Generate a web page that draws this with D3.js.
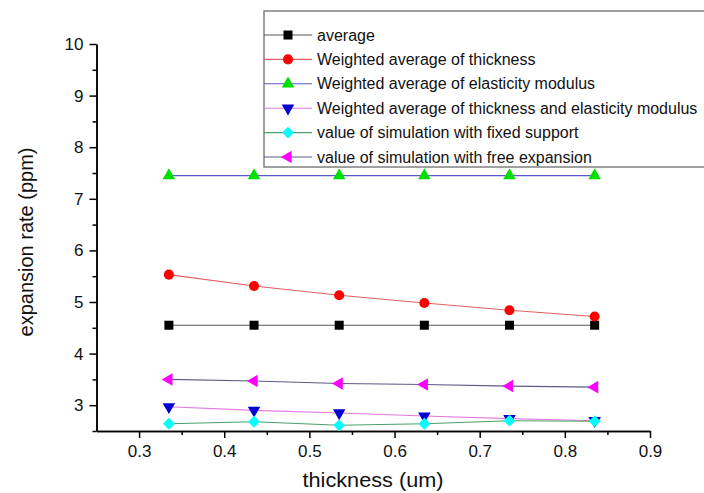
<!DOCTYPE html>
<html>
<head>
<meta charset="utf-8">
<script src="https://cdn.jsdelivr.net/npm/d3@7"></script>
<style>
    body { margin: 0; background: #fff; }
    svg { display: block; font-family: "Liberation Sans", Arial, sans-serif; }
    .axis path, .axis line { stroke: #000; stroke-width: 1.5; }
    .axis text { font-size: 17px; fill: #111; }
</style>
</head>
<body>
<div id="chart"></div>
<script>
'use strict';

// data
const thickness = [0.335, 0.435, 0.535, 0.635, 0.735, 0.835];
const average = [4.55, 4.55, 4.55, 4.55, 4.55, 4.55];
const weightedThickness = [5.53, 5.31, 5.13, 4.98, 4.84, 4.72];
const weightedModulus = [7.45, 7.45, 7.45, 7.45, 7.45, 7.45];
const weightedBoth = [2.97, 2.90, 2.85, 2.79, 2.74, 2.70];
const simFixed = [2.64, 2.68, 2.61, 2.64, 2.70, 2.69];
const simFree = [3.50, 3.47, 3.42, 3.40, 3.37, 3.35];

const seriesNames = [
    'average',
    'Weighted average of thickness',
    'Weighted average of elasticity modulus',
    'Weighted average of thickness and elasticity modulus',
    'value of simulation with fixed support',
    'value of simulation with free expansion'
];
const xTicks = [0.3, 0.4, 0.5, 0.6, 0.7, 0.8, 0.9];
const xMinorTicks = [0.35, 0.45, 0.55, 0.65, 0.75, 0.85];
const yTicks = [3, 4, 5, 6, 7, 8, 9, 10];
const yMinorTicks = [2.5, 3.5, 4.5, 5.5, 6.5, 7.5, 8.5, 9.5];

const width = 704, height = 493;
const margin = {top: 44, right: 54, bottom: 62, left: 96.5};

const svg = d3.select('#chart').append('svg')
    .attr('width', width)
    .attr('height', height)
    .attr('viewBox', [0, 0, width, height]);

const x = d3.scaleLinear()
    .domain([0.25, 0.9])
    .range([margin.left, width - margin.right]);
const y = d3.scaleLinear()
    .domain([2.5, 10])
    .range([height - margin.bottom, margin.top]);

// marker styles per series
const styles = [
    {symbol: d3.symbolSquare, size: 81, rotate: 0, fill: '#000', line: '#555'},
    {symbol: d3.symbolCircle, size: 80, rotate: 0, fill: '#ff0000', line: '#e06060'},
    {symbol: d3.symbolTriangle, size: 68, rotate: 0, fill: '#00e000', line: '#5a5ac8'},
    {symbol: d3.symbolTriangle, size: 68, rotate: 180, fill: '#0000d0', line: '#e27ae2'},
    {symbol: d3.symbolSquare, size: 70, rotate: 45, fill: '#00ffff', line: '#4aa06a'},
    {symbol: d3.symbolTriangle, size: 68, rotate: -90, fill: '#ff00ff', line: '#5a5a88'}
];
const values = [average, weightedThickness, weightedModulus, weightedBoth, simFixed, simFree];

// axes
svg.append('g')
    .attr('class', 'axis')
    .attr('transform', `translate(0, ${height - margin.bottom})`)
    .call(d3.axisBottom(x).tickValues(xMinorTicks).tickSize(4).tickSizeOuter(0).tickFormat(''));
svg.append('g')
    .attr('class', 'axis')
    .attr('transform', `translate(0, ${height - margin.bottom})`)
    .call(d3.axisBottom(x).tickValues(xTicks).tickSize(7).tickSizeOuter(0).tickPadding(7).tickFormat(d3.format('.1f')));
svg.append('g')
    .attr('class', 'axis')
    .attr('transform', `translate(${margin.left}, 0)`)
    .call(d3.axisLeft(y).tickValues(yMinorTicks).tickSize(4).tickSizeOuter(0).tickFormat(''));
svg.append('g')
    .attr('class', 'axis')
    .attr('transform', `translate(${margin.left}, 0)`)
    .call(d3.axisLeft(y).tickValues(yTicks).tickSize(7).tickSizeOuter(0).tickPadding(6));

// axis titles
svg.append('text')
    .attr('x', 302.5)
    .attr('y', 487)
    .attr('textLength', 141)
    .attr('lengthAdjust', 'spacingAndGlyphs')
    .style('font-size', '20px')
    .style('fill', '#111')
    .text('thickness (um)');
svg.append('text')
    .attr('transform', `translate(33, 242) rotate(-90)`)
    .attr('text-anchor', 'middle')
    .style('font-size', '20px')
    .style('fill', '#111')
    .text('expansion rate (ppm)');

// lines and markers
const line = d3.line()
    .x((d, i) => x(thickness[i]))
    .y(d => y(d));

values.forEach((vals, k) => {
    const st = styles[k];
    svg.append('path')
        .datum(vals)
        .attr('fill', 'none')
        .attr('stroke', st.line)
        .attr('stroke-width', 1.1)
        .attr('d', line);
    svg.append('g')
        .selectAll('path')
        .data(vals)
        .join('path')
            .attr('transform', (d, i) => `translate(${x(thickness[i])}, ${y(d)}) rotate(${st.rotate})`)
            .attr('d', d3.symbol().type(st.symbol).size(st.size))
            .attr('fill', st.fill);
});

// legend
const legend = svg.append('g').attr('transform', 'translate(264, 11)');
legend.append('rect')
    .attr('x', 0)
    .attr('y', 0)
    .attr('width', 460)
    .attr('height', 156)
    .attr('fill', '#fff')
    .attr('stroke', '#808080')
    .attr('stroke-width', 1.5);

const rows = legend.selectAll('g.row')
    .data(seriesNames)
    .join('g')
        .attr('class', 'row')
        .attr('transform', (d, i) => `translate(0, ${24 + i * 24.4})`);
rows.append('line')
    .attr('x1', 0)
    .attr('x2', 48)
    .attr('stroke', (d, i) => styles[i].line)
    .attr('stroke-width', 1.1);
rows.append('path')
    .attr('transform', (d, i) => `translate(24, 0) rotate(${styles[i].rotate})`)
    .attr('d', (d, i) => d3.symbol().type(styles[i].symbol).size(styles[i].size)())
    .attr('fill', (d, i) => styles[i].fill);
rows.append('text')
    .attr('x', 53)
    .attr('y', 5.5)
    .style('font-size', '16px')
    .style('fill', '#111')
    .text(d => d);
</script>
</body>
</html>
